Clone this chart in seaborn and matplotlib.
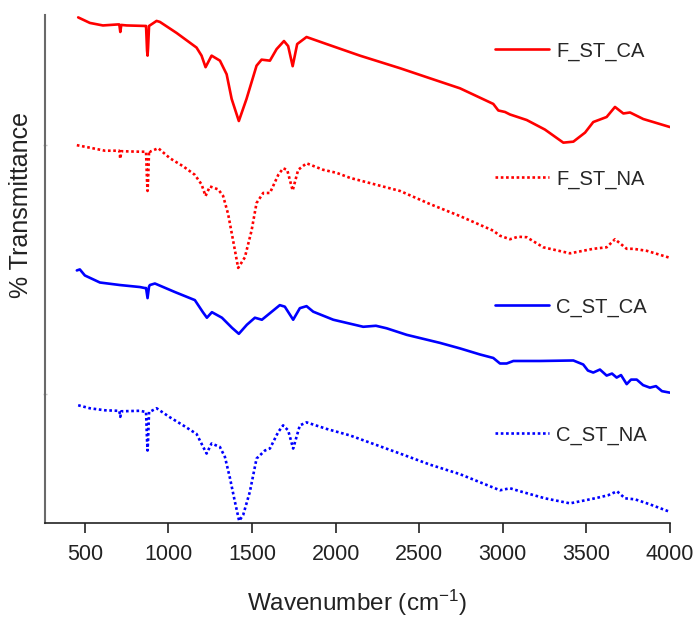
import numpy as np
import pandas as pd
import seaborn as sns
import matplotlib
matplotlib.use("Agg")
import matplotlib.pyplot as plt

# FTIR spectra, stacked (arbitrary transmittance units, offset per sample)
wn_f_ca = [460, 530, 608, 697, 706, 712, 718, 750, 859, 866, 872, 875, 878, 884, 929, 949,
           1049, 1168, 1198, 1222, 1258, 1308, 1348, 1378, 1421, 1467, 1527, 1557, 1607,
           1647, 1691, 1716, 1743, 1770, 1826, 1946, 2145, 2385, 2564, 2744, 2943, 2973,
           3013, 3043, 3143, 3252, 3362, 3422, 3492, 3541, 3621, 3671, 3721, 3761, 3840, 4000]
t_f_ca = [100.1, 99.0, 98.5, 98.7, 98.7, 97.2, 98.6, 98.5, 98.4, 98.4, 93.5, 92.5, 94.0, 98.4,
          99.4, 99.2, 97.0, 94.1, 92.5, 90.2, 92.5, 91.5, 88.8, 83.9, 79.5, 83.9, 90.5, 91.7,
          91.5, 93.8, 95.4, 94.4, 90.4, 94.8, 96.2, 94.8, 92.5, 90.0, 88.0, 86.0, 82.9, 81.6,
          81.3, 80.8, 79.7, 77.8, 75.2, 75.4, 77.2, 79.3, 80.3, 82.3, 81.0, 81.2, 79.9, 78.3]

wn_f_na = [452, 530, 620, 697, 706, 712, 718, 829, 859, 866, 872, 875, 878, 884, 889, 939,
           1009, 1088, 1158, 1198, 1222, 1248, 1298, 1327, 1357, 1387, 1417, 1457, 1497,
           1527, 1567, 1607, 1657, 1686, 1710, 1743, 1776, 1826, 1926, 2006, 2086, 2385,
           2564, 2744, 2943, 2983, 3043, 3091, 3143, 3242, 3402, 3541, 3621, 3671, 3741,
           3781, 3861, 4000]
t_f_na = [74.7, 74.2, 73.6, 73.6, 73.6, 72.0, 73.5, 73.4, 73.4, 73.4, 67.5, 65.6, 67.5, 73.6,
          73.4, 74.1, 72.1, 70.5, 68.8, 66.9, 64.6, 66.5, 65.9, 64.6, 61.0, 55.7, 50.3, 52.4,
          57.7, 63.2, 65.2, 65.2, 68.8, 70.1, 69.8, 65.7, 69.8, 71.1, 69.8, 69.2, 68.2, 65.6,
          63.0, 60.6, 57.7, 56.7, 56.0, 56.5, 56.4, 54.4, 53.2, 54.1, 54.4, 56.0, 54.1, 54.1,
          53.7, 52.3]

wn_c_ca = [452, 470, 500, 590, 709, 829, 859, 866, 875, 884, 889, 919, 1039, 1158, 1206,
           1230, 1260, 1320, 1380, 1421, 1469, 1517, 1559, 1607, 1666, 1696, 1746, 1786,
           1826, 1866, 1986, 2165, 2241, 2305, 2425, 2624, 2744, 2863, 2943, 2983, 3023,
           3063, 3222, 3422, 3481, 3509, 3541, 3581, 3621, 3653, 3681, 3707, 3741, 3767,
           3801, 3839, 3880, 3916, 3952, 4000]
t_c_ca = [49.8, 50.0, 48.8, 47.4, 46.9, 46.5, 46.3, 46.3, 44.3, 46.6, 46.9, 47.2, 45.5, 43.9,
          41.5, 40.4, 41.5, 40.4, 38.4, 37.2, 39.0, 40.4, 40.0, 41.3, 42.9, 42.6, 40.0, 42.3,
          42.7, 41.6, 40.0, 38.6, 38.8, 38.3, 37.0, 35.4, 34.3, 33.1, 32.4, 31.3, 31.3, 31.8,
          31.8, 31.9, 31.1, 29.9, 29.5, 30.1, 28.9, 29.3, 28.5, 29.0, 27.2, 28.1, 28.1, 27.0,
          26.5, 26.8, 25.8, 25.5]

wn_c_na = [460, 530, 620, 697, 706, 712, 718, 829, 859, 866, 872, 875, 878, 884, 889, 929,
           1009, 1088, 1168, 1208, 1228, 1258, 1308, 1338, 1368, 1397, 1423, 1447, 1487,
           1527, 1577, 1607, 1657, 1686, 1716, 1746, 1786, 1826, 1946, 2086, 2385, 2564,
           2744, 2923, 2983, 3043, 3103, 3252, 3402, 3551, 3629, 3683, 3731, 3791, 3880, 4000]
t_c_na = [23.0, 22.4, 22.0, 21.9, 21.9, 20.7, 21.8, 21.9, 21.7, 21.7, 16.0, 14.0, 16.0, 21.7,
          21.7, 22.4, 20.6, 19.0, 17.3, 14.7, 13.4, 15.4, 14.7, 12.7, 8.5, 3.9, 0.0, 1.2, 5.8,
          12.4, 14.0, 14.4, 17.7, 19.0, 18.0, 14.4, 19.0, 19.6, 18.3, 17.0, 13.4, 11.2, 9.3,
          6.9, 6.1, 6.5, 5.9, 4.5, 3.5, 4.5, 5.1, 5.9, 4.5, 4.3, 3.3, 1.8]

labels = ["F_ST_CA", "F_ST_NA", "C_ST_CA", "C_ST_NA"]
colors = {"F_ST_CA": "#ff0000", "F_ST_NA": "#ff0000", "C_ST_CA": "#0000ff", "C_ST_NA": "#0000ff"}
dashes = {"F_ST_CA": "", "F_ST_NA": (1, 1), "C_ST_CA": "", "C_ST_NA": (1, 1)}

df = pd.concat([
    pd.DataFrame({"wn": wn_f_ca, "T": t_f_ca, "sample": "F_ST_CA"}),
    pd.DataFrame({"wn": wn_f_na, "T": t_f_na, "sample": "F_ST_NA"}),
    pd.DataFrame({"wn": wn_c_ca, "T": t_c_ca, "sample": "C_ST_CA"}),
    pd.DataFrame({"wn": wn_c_na, "T": t_c_na, "sample": "C_ST_NA"}),
], ignore_index=True)

sns.set_style("white")
plt.rcParams["font.family"] = ["Liberation Sans", "DejaVu Sans"]
plt.rcParams["mathtext.default"] = "regular"

fig = plt.figure(figsize=(6.99, 6.2), dpi=100)
ax = fig.add_axes([0.064, 0.1565, 0.8945, 0.8195])

sns.lineplot(data=df, x="wn", y="T", hue="sample", style="sample", hue_order=labels,
             style_order=labels, palette=colors, dashes=dashes, estimator=None, sort=True,
             linewidth=1.9, ax=ax)

ax.set_xlim(260, 4000)
ax.set_ylim(-0.4, 100.6)
ax.set_xticks(np.arange(500, 4001, 500))
ax.set_yticks([25.2, 74.8])
ax.set_yticklabels([])
ax.tick_params(axis="x", direction="out", length=7, width=1.2, colors="#222222",
               labelsize=15.5, pad=8, bottom=True)
ax.tick_params(axis="y", direction="inout", length=3, width=1, colors="#c8c8c8", left=True)

sns.despine(ax=ax)
ax.spines["left"].set_color("#6a6a6a")
ax.spines["left"].set_linewidth(1.5)
ax.spines["bottom"].set_color("#222222")
ax.spines["bottom"].set_linewidth(1.2)

ax.set_xlabel("Wavenumber (cm$^{-1}$)", fontsize=17.5, color="#222222", labelpad=16.5)
ax.set_ylabel("% Transmittance", fontsize=18, color="#222222")
ax.yaxis.set_label_coords(-0.019, 0.626)

handles, lbls = ax.get_legend_handles_labels()
ax.legend(handles, lbls, loc="upper left", bbox_to_anchor=(0.72, 0.948), frameon=False,
          fontsize=14.5, handlelength=2.7, handletextpad=0.35, labelspacing=5.4,
          borderpad=0, borderaxespad=0)

fig.savefig("out.png", dpi=100)
